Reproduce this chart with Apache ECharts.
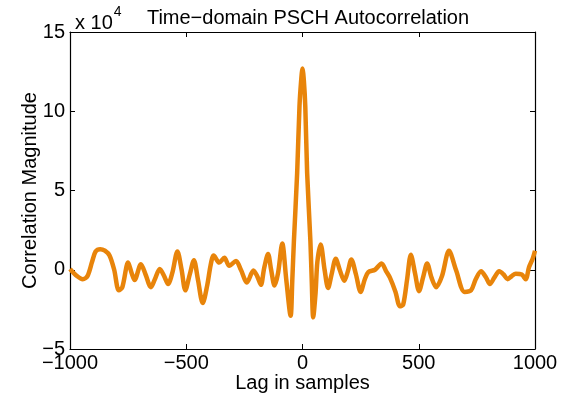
<!DOCTYPE html>
<html>
<head>
<meta charset="utf-8">
<script src="https://cdn.jsdelivr.net/npm/echarts@6/dist/echarts.min.js"></script>
<style>
  html, body { margin: 0; padding: 0; background: #fff; }
  #chart_main { width: 570px; height: 403px; }
</style>
</head>
<body>
<div id="chart_main"></div>
<script>
// lag (samples) and correlation magnitude (x 10^4)
var lags = [
    -1000, -970, -945, -925, -905, -890, -870, -850, -830, -810,
    -790, -775, -750, -735, -722, -695, -675, -652, -635, -614,
    -595, -578, -560, -538, -520, -504, -485, -467, -450, -429,
    -410, -395, -382, -358, -336, -315, -286, -265, -239, -211,
    -195, -179, -165, -148, -135, -120, -105, -87, -70, -51,
    -44, -37, -23, -13, -6, 0, 6, 12, 20, 34,
    40, 46, 56, 64, 78, 95, 110, 125, 143, 160,
    180, 195, 210, 230, 250, 268, 283, 312, 340, 360,
    376, 400, 419, 433, 450, 466, 485, 501, 520, 536,
    555, 575, 600, 630, 661, 697, 725, 745, 768, 790,
    806, 825, 846, 865, 882, 900, 917, 943, 960, 974,
    990, 1000
];
var magnitudes = [
    0.05, -0.4, -0.6, -0.4, 0.5, 1.15, 1.3, 1.2, 0.9, 0.0,
    -1.3, -1.1, 0.45, -0.2, -0.65, 0.35, -0.3, -1.1, -0.6, 0.05,
    -0.4, -0.9, -0.2, 1.15, 0.0, -1.3, -0.3, 0.6, -0.6, -2.1,
    -1.0, 0.3, 0.9, 0.45, 0.75, 0.25, 0.55, 0.0, -0.8, -0.05,
    -0.4, -0.95, 0.1, 1.0, 0.0, -1.0, -0.2, 1.65, -0.6, -2.9,
    -0.7, 1.8, 6.1, 10.3, 11.9, 12.7, 11.9, 10.3, 6.1, 1.8,
    -0.8, -3.0, -1.5, 0.5, 1.6, 0.0, -1.15, -0.3, 0.7, 0.0,
    -0.7, -0.1, 0.65, -0.3, -1.4, -0.6, -0.15, 0.0, 0.4, -0.1,
    -0.5, -1.4, -2.3, -2.2, -0.6, 0.95, -0.3, -1.35, -0.4, 0.4,
    -0.5, -1.1, -0.4, 1.2, -0.05, -1.4, -1.3, -0.6, -0.1, -0.5,
    -0.9, -0.5, -0.1, -0.3, -0.6, -0.4, -0.25, -0.3, -0.6, 0.15,
    0.7, 1.2
];
var xTicks = [-1000, -500, 0, 500, 1000];
var yTicks = [-5, 0, 5, 10, 15];

var fontFamily = 'Liberation Sans, Arial, sans-serif';

function minus(v) {
    return String(v).replace('-', '\u2212');
}

var myChart = echarts.init(document.getElementById('chart_main'));
var points = lags.map(function (lag, i) {
    return [lag, magnitudes[i]];
});

var tickStyle = { show: true, inside: true, length: 5, lineStyle: { color: '#000', width: 1 } };
var lineStyle = { show: true, onZero: false, lineStyle: { color: '#000', width: 1.2 } };

var option = {
    backgroundColor: '#fff',
    animation: false,
    title: [{
        text: 'Time\u2212domain PSCH Autocorrelation',
        left: 303,
        top: 3,
        textAlign: 'center',
        textStyle: { fontFamily: fontFamily, fontSize: 20, fontWeight: 'normal', color: '#000' }
    }, {
        text: '{a|x 10}{b|4}',
        left: 70,
        top: 0,
        textStyle: {
            fontWeight: 'normal',
            rich: {
                a: { fontFamily: fontFamily, fontSize: 20, fontWeight: 'normal', color: '#000', padding: [8, 0, 0, 0] },
                b: { fontFamily: fontFamily, fontSize: 14, fontWeight: 'normal', color: '#000', verticalAlign: 'top', padding: [0, 0, 12, 1] }
            }
        }
    }],
    grid: { left: 70, right: 35, top: 32, bottom: 54, show: false },
    xAxis: [{
        type: 'value',
        min: xTicks[0],
        max: xTicks[xTicks.length - 1],
        interval: 500,
        name: 'Lag in samples',
        nameLocation: 'middle',
        nameGap: 24,
        nameMoveOverlap: false,
        nameTextStyle: { fontFamily: fontFamily, fontSize: 20, color: '#000' },
        axisLine: lineStyle,
        axisTick: tickStyle,
        splitLine: { show: false },
        axisLabel: { fontFamily: fontFamily, fontSize: 20, color: '#000', margin: 4, formatter: minus }
    }, {
        type: 'value',
        position: 'top',
        min: xTicks[0],
        max: xTicks[xTicks.length - 1],
        interval: 500,
        axisLine: lineStyle,
        axisTick: tickStyle,
        splitLine: { show: false },
        axisLabel: { show: false }
    }],
    yAxis: [{
        type: 'value',
        min: yTicks[0],
        max: yTicks[yTicks.length - 1],
        interval: 5,
        name: 'Correlation Magnitude',
        nameLocation: 'middle',
        nameGap: 30,
        nameMoveOverlap: false,
        nameTextStyle: { fontFamily: fontFamily, fontSize: 20, color: '#000' },
        axisLine: lineStyle,
        axisTick: tickStyle,
        splitLine: { show: false },
        axisLabel: { fontFamily: fontFamily, fontSize: 20, color: '#000', margin: 5, formatter: minus }
    }, {
        type: 'value',
        position: 'right',
        min: yTicks[0],
        max: yTicks[yTicks.length - 1],
        interval: 5,
        axisLine: lineStyle,
        axisTick: tickStyle,
        splitLine: { show: false },
        axisLabel: { show: false }
    }],
    series: [{
        type: 'line',
        data: points,
        smooth: 0.3,
        showSymbol: false,
        lineStyle: { color: '#E8840A', width: 4.5 },
        itemStyle: { color: '#E8840A' }
    }]
};

myChart.setOption(option);
</script>
</body>
</html>
